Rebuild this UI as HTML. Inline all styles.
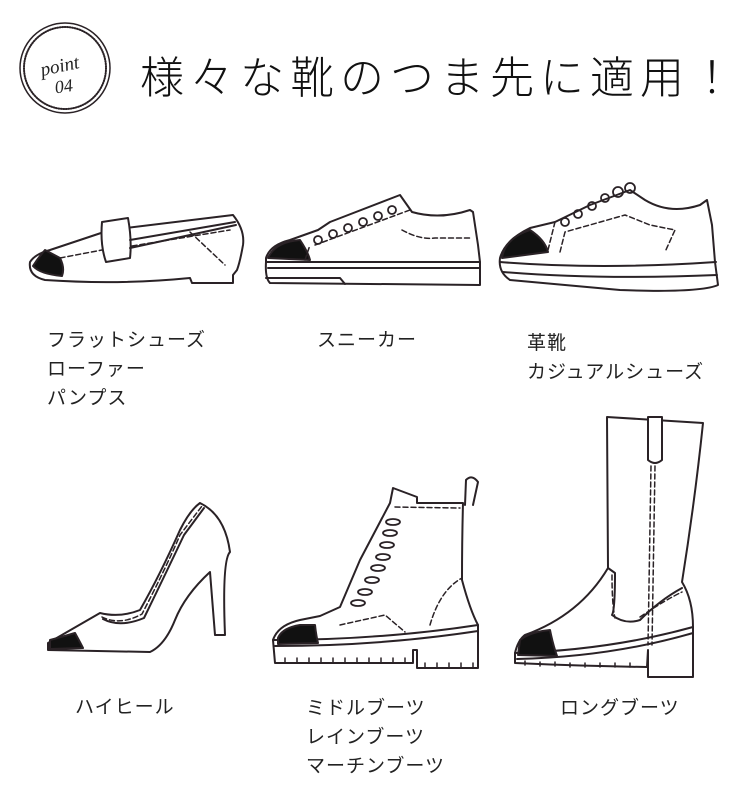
<!DOCTYPE html>
<html><head><meta charset="utf-8"><style>
body{margin:0;background:#fff;width:750px;height:809px;overflow:hidden;position:relative;font-family:"Liberation Sans","Noto Sans CJK JP",sans-serif;color:#222}
.t{position:absolute;font-size:19px;line-height:29px;white-space:nowrap;letter-spacing:1px}
svg{position:absolute;left:0;top:0}
</style></head><body>
<svg width="750" height="809" viewBox="0 0 750 809" fill="none" stroke="#2a2226" stroke-width="2" stroke-linejoin="round" stroke-linecap="round">
<!-- badge -->
<circle cx="65" cy="68" r="45" stroke-width="1.5"/>
<circle cx="65" cy="68" r="41" stroke-width="2" stroke-dasharray="1 1.5"/>
<text x="40" y="72" font-family="Liberation Serif,serif" font-size="19" fill="#222" stroke="none" font-style="italic" transform="rotate(-12 60 65)">point</text>
<text x="55" y="92" font-family="Liberation Serif,serif" font-size="18" fill="#222" stroke="none" font-style="italic" transform="rotate(-8 65 88)">04</text>
<text x="140" y="93" font-family="'Noto Sans CJK JP',sans-serif" font-weight="300" font-size="44" letter-spacing="6" fill="#111" stroke="none">様々な靴のつま先に適用！</text>

<!-- loafer -->
<path d="M30,262 Q35,254 50,250 L110,230 L233,215 Q245,230 243,245 Q240,262 237,270 L233,275 L233,283 L192,283 L190,278 Q120,285 45,280 Q28,276 30,262 Z" fill="#fff"/>
<path d="M45,250 Q38,258 33,266 Q40,274 62,276 Q65,268 60,258 Z" fill="#111"/>
<path d="M102,222 L128,218 Q132,240 130,258 L106,262 Q100,245 102,222 Z" fill="#fff"/>
<path d="M130,240 L235,222 M130,248 L236,225" />
<path d="M132,246 L230,230 M190,232 L225,265 M60,258 L102,250" stroke-dasharray="5 3" stroke-width="1.5"/>

<!-- sneaker -->
<path d="M266,258 Q270,245 290,240 L318,230 L330,222 L400,195 L412,212 Q440,220 470,210 L473,212 L478,245 L480,262 L480,285 L270,283 Q265,278 266,262 Z" fill="#fff"/>
<path d="M266,262 L480,262 M268,268 L480,268 M266,278 L340,278 L345,284" />
<path d="M268,258 Q275,242 300,240 Q308,252 310,260 Z" fill="#111"/>
<g stroke-width="1.8"><circle cx="318" cy="240" r="4"/><circle cx="333" cy="234" r="4"/><circle cx="348" cy="228" r="4"/><circle cx="363" cy="222" r="4"/><circle cx="378" cy="216" r="4"/><circle cx="392" cy="210" r="4"/></g>
<path d="M315,245 L410,210 M305,260 L310,245 M402,230 Q420,240 435,238 L470,238" stroke-dasharray="5 3" stroke-width="1.5"/>

<!-- platform sneaker -->
<path d="M500,258 Q505,240 530,228 L555,222 L590,205 L630,190 L645,200 Q670,215 700,205 L707,200 L712,225 L715,262 L718,285 Q700,293 620,290 L510,280 Q498,272 500,258 Z" fill="#fff"/>
<path d="M500,262 Q600,270 716,262 M503,272 Q600,280 717,275" />
<path d="M502,258 Q505,238 530,230 Q545,240 548,252 Z" fill="#111"/>
<g stroke-width="1.8"><circle cx="565" cy="222" r="4"/><circle cx="578" cy="214" r="4"/><circle cx="592" cy="206" r="4"/><circle cx="605" cy="198" r="4"/><circle cx="618" cy="192" r="5"/><circle cx="630" cy="188" r="5"/></g>
<path d="M548,250 L555,222 M560,252 L565,232 L625,215 L650,225 L675,230 L665,252" stroke-dasharray="5 3" stroke-width="1.5"/>

<!-- high heel -->
<path d="M48,643 L100,613 Q120,618 140,610 Q160,575 180,530 Q190,510 200,503 Q225,515 230,552 Q222,560 225,635 L215,635 L210,572 Q185,595 175,620 Q165,645 150,652 L48,650 Z" fill="#fff"/>
<path d="M50,640 Q65,636 75,633 Q80,642 83,648 L50,649 Z" fill="#111"/>
<path d="M102,617 Q120,626 142,614 Q165,570 180,535 L202,506" stroke-dasharray="5 3" stroke-width="1.5"/>
<path d="M103,619 Q120,628 144,618 Q165,575 184,535 L204,508"/>

<!-- midi boot -->
<path d="M273,640 Q278,625 300,620 L320,616 L340,607 L360,560 L390,503 L393,488 L417,497 L417,503 L463,503 Q462,540 462,580 Q470,610 478,625 L478,668 L417,668 L417,650 L413,650 L413,663 L275,663 Z" fill="#fff"/>
<path d="M273,640 Q380,640 478,625 M275,646 Q380,646 478,631" />
<path d="M278,638 Q282,628 300,625 L315,625 Q316,635 318,643 L278,644 Z" fill="#111"/>
<path d="M465,505 L466,480 Q472,474 478,482 L473,505" />
<g stroke-width="1.8"><ellipse cx="393" cy="522" rx="7" ry="3"/><ellipse cx="390" cy="533" rx="7" ry="3"/><ellipse cx="387" cy="545" rx="7" ry="3"/><ellipse cx="383" cy="557" rx="7" ry="3"/><ellipse cx="378" cy="568" rx="7" ry="3"/><ellipse cx="372" cy="580" rx="7" ry="3"/><ellipse cx="365" cy="592" rx="7" ry="3"/><ellipse cx="358" cy="603" rx="7" ry="3"/></g>
<path d="M395,507 L460,508 M340,625 L385,615 L405,632 M430,625 Q440,590 462,578" stroke-dasharray="5 3" stroke-width="1.5"/>
<path d="M285,663 v-5 M297,663 v-5 M309,663 v-5 M321,663 v-5 M333,663 v-5 M345,663 v-5 M357,663 v-5 M369,663 v-5 M381,663 v-5 M393,663 v-5 M405,663 v-5 M425,668 v-5 M437,668 v-5 M449,668 v-5 M461,668 v-5 M473,668 v-5" stroke-width="1.5"/>

<!-- long boot -->
<path d="M607,417 L703,423 Q695,500 682,582 Q693,600 693,627 L693,677 L648,677 L648,650 L647,667 Q580,666 515,663 L515,653 Q518,640 525,635 Q580,615 608,568 Z" fill="#fff"/>
<path d="M515,653 Q610,650 693,627 M517,659 Q610,657 693,633" />
<path d="M520,640 Q530,632 550,630 Q553,645 557,656 L518,655 Z" fill="#111"/>
<path d="M648,417 L662,417 L662,460 Q655,466 648,460 Z" fill="#fff"/>
<path d="M608,568 L615,573 Q615,610 612,615 Q625,625 640,620 Q660,600 682,588"/>
<path d="M651,466 L648,645 M655,466 L652,645 M612,575 Q612,605 615,618 M640,617 Q665,600 682,592" stroke-dasharray="5 3" stroke-width="1.5"/>
<path d="M525,665 v-4 M540,666 v-4 M555,666 v-4 M570,667 v-4 M585,667 v-4 M600,667 v-4 M615,667 v-4 M630,667 v-4" stroke-width="1.5"/>
</svg>

<div class="t" style="left:47px;top:326px">フラットシューズ<br>ローファー<br>パンプス</div>
<div class="t" style="left:317px;top:326px">スニーカー</div>
<div class="t" style="left:527px;top:329px">革靴<br>カジュアルシューズ</div>
<div class="t" style="left:75px;top:693px">ハイヒール</div>
<div class="t" style="left:306px;top:694px">ミドルブーツ<br>レインブーツ<br>マーチンブーツ</div>
<div class="t" style="left:560px;top:694px">ロングブーツ</div>
</body></html>
